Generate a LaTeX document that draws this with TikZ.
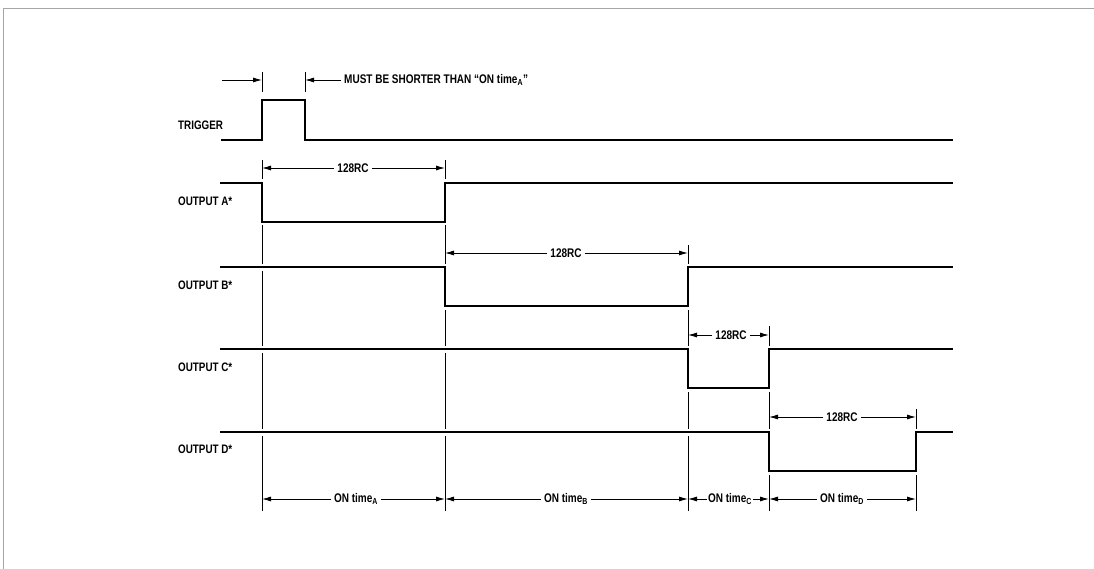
\documentclass[tikz,border=0pt]{standalone}
\usepackage{fontspec}
\setmainfont{Liberation Sans}[FakeStretch=0.80]
\usetikzlibrary{arrows.meta}
\begin{document}
\begin{tikzpicture}[x=1pt,y=-1pt,
  sig/.style={line width=2.3pt, line join=miter, preaction={draw=white,line width=7pt}},
  guide/.style={line width=0.9pt},
  dim/.style={line width=0.9pt,-{Latex[length=9pt,width=5pt]}},
  lbl/.style={font=\bfseries\fontsize{12.3}{13}\selectfont, inner sep=0pt, anchor=west},
  dlbl/.style={font=\bfseries\fontsize{12.5}{13}\selectfont, inner sep=3pt}]
\useasboundingbox (0,0) rectangle (1094,569);
% frame
\draw[gray!70, line width=0.8pt] (3,569) -- (3,8) -- (1094,8);

% guide lines
\draw[guide] (262,72) -- (262,92);
\draw[guide] (305,72) -- (305,92);
\draw[guide] (262,160) -- (262,511);
\draw[guide] (445,160) -- (445,511);
\draw[guide] (688,245) -- (688,511);
\draw[guide] (769,326) -- (769,511);
\draw[guide] (916,409) -- (916,511);

% signals
\draw[sig] (221,140) -- (262,140) -- (262,100) -- (305,100) -- (305,140) -- (953,140);
\draw[sig] (220,183) -- (262,183) -- (262,222) -- (445,222) -- (445,183) -- (953,183);
\draw[sig] (220,267) -- (445,267) -- (445,306) -- (688,306) -- (688,267) -- (953,267);
\draw[sig] (220,349) -- (688,349) -- (688,388) -- (769,388) -- (769,349) -- (953,349);
\draw[sig] (220,432) -- (769,432) -- (769,471) -- (916,471) -- (916,432) -- (953,432);

% signal labels
\node[lbl] (ltrig) at (178,125) {TRIGGER};
\node[lbl] (la) at (178,201) {OUTPUT A*};
\node[lbl] (lb) at (178,285) {OUTPUT B*};
\node[lbl] (lc) at (178,367) {OUTPUT C*};
\node[lbl] (ld) at (178,449) {OUTPUT D*};

% trigger width annotation
\coordinate (t0) at (222,80);
\coordinate (t1) at (262,80);
\coordinate (t2) at (305,80);
\node[dlbl, anchor=west] (must) at (341,80) {MUST BE SHORTER THAN ``ON time\textsubscript{A}''};
\draw[dim] (t0) -- (t1);
\draw[dim] (must.west) -- (t2);

% 128RC dimensions
\node[dlbl] (da) at (353,168) {128RC};
\draw[dim] (da.west) -- (262,168);
\draw[dim] (da.east) -- (445,168);
\node[dlbl] (db) at (566,253) {128RC};
\draw[dim] (db.west) -- (445,253);
\draw[dim] (db.east) -- (688,253);
\node[dlbl] (dc) at (731,335) {128RC};
\draw[dim] (dc.west) -- (688,335);
\draw[dim] (dc.east) -- (769,335);
\node[dlbl] (dd) at (842,417) {128RC};
\draw[dim] (dd.west) -- (769,417);
\draw[dim] (dd.east) -- (916,417);

% ON time dimensions
\node[dlbl] (oa) at (356,499) {ON time\textsubscript{A}};
\draw[dim] (oa.west) -- (262,499);
\draw[dim] (oa.east) -- (445,499);
\node[dlbl] (ob) at (566,499) {ON time\textsubscript{B}};
\draw[dim] (ob.west) -- (445,499);
\draw[dim] (ob.east) -- (688,499);
\node[dlbl, inner sep=1pt] (oc) at (730,499) {ON time\textsubscript{C}};
\draw[dim] (oc.west) -- (688,499);
\draw[dim] (oc.east) -- (769,499);
\node[dlbl] (od) at (842,499) {ON time\textsubscript{D}};
\draw[dim] (od.west) -- (769,499);
\draw[dim] (od.east) -- (916,499);
\end{tikzpicture}
\end{document}
